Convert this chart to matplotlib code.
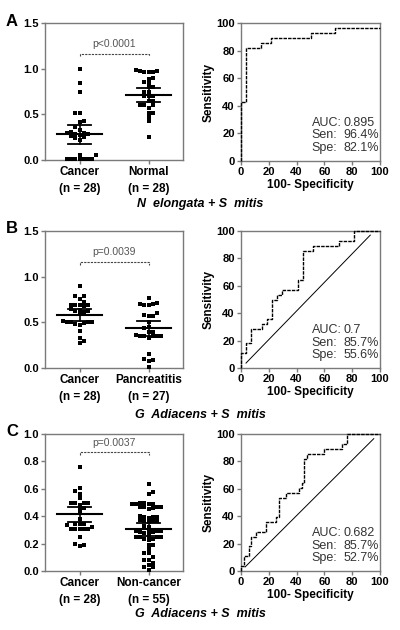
import matplotlib
matplotlib.use("Agg")
import matplotlib.pyplot as plt
import numpy as np

plt.rcParams['font.family'] = ['Liberation Sans', 'DejaVu Sans']

# ---------------- data ----------------
# Panel A
a_cats = ["Cancer\n(n = 28)", "Normal\n(n = 28)"]
a_cancer = [0.993, 0.84, 0.75, 0.52, 0.51, 0.43, 0.42, 0.36, 0.33, 0.31, 0.30, 0.30, 0.29, 0.28,
            0.27, 0.26, 0.25, 0.24, 0.22, 0.055, 0.05, 0.007, 0.007, 0.007, 0.007, 0.007, 0.007, 0.007]
a_normal = [0.985, 0.975, 0.965, 0.963, 0.968, 0.97, 0.894, 0.89, 0.85, 0.845, 0.80, 0.80, 0.75, 0.75,
            0.70, 0.70, 0.70, 0.65, 0.65, 0.60, 0.60, 0.60, 0.57, 0.52, 0.52, 0.475, 0.43, 0.255]
a_mean = [0.285, 0.716]
a_lo = [0.175, 0.636]
a_hi = [0.38, 0.79]
a_p = "p<0.0001"
a_title = "N  elongata + S  mitis"
a_roc_x = [0, 0, 3.57, 3.57, 14.3, 14.3, 21.4, 21.4, 50.0, 50.0, 67.9, 67.9, 100]
a_roc_y = [0, 42.9, 42.9, 82.1, 82.1, 85.7, 85.7, 89.3, 89.3, 92.9, 92.9, 96.4, 96.4]
a_stats = ["0.895", "96.4%", "82.1%"]

# Panel B
b_cats = ["Cancer\n(n = 28)", "Pancreatitis\n(n = 27)"]
b_cancer = [0.898, 0.79, 0.79, 0.752, 0.726, 0.69, 0.69, 0.685, 0.685, 0.68, 0.645, 0.64, 0.62, 0.62,
            0.61, 0.59, 0.51, 0.50, 0.50, 0.50, 0.50, 0.49, 0.478, 0.475, 0.40, 0.325, 0.295, 0.277]
b_panc = [0.763, 0.71, 0.70, 0.69, 0.69, 0.70, 0.60, 0.58, 0.57, 0.57, 0.507, 0.45, 0.44, 0.397,
          0.397, 0.36, 0.35, 0.35, 0.35, 0.35, 0.35, 0.33, 0.153, 0.10, 0.09, 0.08, 0.015]
b_mean = [0.582, 0.436]
b_lo = [0.52, 0.353]
b_hi = [0.647, 0.52]
b_p = "p=0.0039"
b_title = "G  Adiacens + S  mitis"
b_roc_x = [0, 0, 3.7, 3.7, 7.4, 7.4, 14.8, 14.8, 18.5, 18.5, 22.2, 22.2, 25.9, 25.9, 29.6, 29.6,
           40.7, 40.7, 44.4, 44.4, 51.9, 51.9, 70.4, 70.4, 81.5, 81.5, 100]
b_roc_y = [0, 10.7, 10.7, 17.9, 17.9, 28.6, 28.6, 32.1, 32.1, 35.7, 35.7, 50.0, 50.0, 53.6, 53.6,
           57.1, 57.1, 64.3, 64.3, 85.7, 85.7, 89.3, 89.3, 92.9, 92.9, 100, 100]
b_diag_x = [3.6, 93]
b_diag_y = [3.6, 97]
b_stats = ["0.7", "85.7%", "55.6%"]

# Panel C
c_cats = ["Cancer\n(n = 28)", "Non-cancer\n(n = 55)"]
c_cancer = [0.761, 0.604, 0.584, 0.56, 0.53, 0.50, 0.50, 0.50, 0.50, 0.483, 0.46, 0.45, 0.42, 0.38,
            0.345, 0.34, 0.34, 0.335, 0.31, 0.31, 0.31, 0.31, 0.31, 0.32, 0.25, 0.195, 0.18, 0.19]
c_non = [0.635, 0.58, 0.56, 0.50, 0.49, 0.49, 0.49, 0.49, 0.50, 0.47, 0.465, 0.465, 0.46, 0.465,
         0.45, 0.40, 0.395, 0.395, 0.39, 0.395, 0.365, 0.37, 0.365, 0.36, 0.365, 0.33, 0.32, 0.29,
         0.29, 0.285, 0.285, 0.29, 0.285, 0.28, 0.25, 0.25, 0.255, 0.25, 0.245, 0.23, 0.23, 0.225,
         0.19, 0.19, 0.16, 0.13, 0.13, 0.10, 0.08, 0.08, 0.06, 0.03, 0.03, 0.01, 0.045]
c_mean = [0.415, 0.308]
c_lo = [0.359, 0.257]
c_hi = [0.464, 0.347]
c_p = "p=0.0037"
c_title = "G  Adiacens + S  mitis"
c_roc_x = [0, 0, 1.8, 1.8, 5.5, 5.5, 7.3, 7.3, 10.9, 10.9, 18.2, 18.2, 25.5, 25.5, 27.3, 27.3,
           32.7, 32.7, 41.8, 41.8, 43.6, 43.6, 45.5, 45.5, 47.3, 47.3, 60.0, 60.0, 72.7, 72.7,
           76.4, 76.4, 100]
c_roc_y = [0, 3.6, 3.6, 10.7, 10.7, 17.9, 17.9, 25.0, 25.0, 28.6, 28.6, 35.7, 35.7, 39.3, 39.3,
           53.6, 53.6, 57.1, 57.1, 60.7, 60.7, 64.3, 64.3, 82.1, 82.1, 85.7, 85.7, 89.3, 89.3,
           92.9, 92.9, 100, 100]
c_diag_x = [3.0, 95.5]
c_diag_y = [3.0, 96.6]
c_stats = ["0.682", "85.7%", "52.7%"]

stat_labels = ["AUC:", "Sen:", "Spe:"]

W, H = 400, 630
fig = plt.figure(figsize=(4.0, 6.3), dpi=100)

SPINE = '#7a7a7a'


def style_axes(ax):
    for s in ax.spines.values():
        s.set_color(SPINE)
        s.set_linewidth(1.0)
    ax.tick_params(direction='out', length=3, width=1.0, color=SPINE, labelsize=8, pad=1.5)
    for lab in ax.get_xticklabels() + ax.get_yticklabels():
        lab.set_fontweight('bold')


def px_axes(l, t, r, b):
    return fig.add_axes([l / W, 1 - b / H, (r - l) / W, (b - t) / H])


def swarm_x(ax, xc, vals, d=4.2):
    """Beeswarm layout in display space (rows of touching squares)."""
    vals = np.asarray(vals, float)
    ypx = ax.transData.transform(np.column_stack([np.full(len(vals), xc), vals]))[:, 1]
    ppu = ax.transData.transform([(1, 0)])[0][0] - ax.transData.transform([(0, 0)])[0][0]
    order = np.argsort(ypx)
    placed = []
    offs = np.zeros(len(vals))
    toggle = 1
    for i in order:
        cands = [0.0]
        for k in range(1, 20):
            cands += [toggle * k * d, -toggle * k * d]
        for c in cands:
            ok = True
            for (px, py) in placed:
                if abs(px - c) < d * 0.95 and abs(py - ypx[i]) < d * 0.95:
                    ok = False
                    break
            if ok:
                offs[i] = c
                placed.append((c, ypx[i]))
                if c != 0:
                    toggle = -toggle
                break
    return xc + offs / ppu


def scatter_panel(t, b, cats, g1, g2, mean, lo, hi, ymax, yticks, ylabels, ptxt, p_y, p_drop, p_text_y):
    ax = px_axes(45, t, 183, b)
    ax.set_xlim(-0.5, 1.5)
    ax.set_ylim(0, ymax)
    for i, g in enumerate([g1, g2]):
        xs = swarm_x(ax, i, g)
        ax.scatter(xs, g, marker='s', s=5.5, color='black', linewidths=0, zorder=3, clip_on=False)
    for i in range(2):
        ax.plot([i - 0.33, i + 0.33], [mean[i], mean[i]], color='black', lw=1.5, zorder=5)
        ax.plot([i, i], [lo[i], hi[i]], color='black', lw=1.2, zorder=5)
        ax.plot([i - 0.17, i + 0.17], [lo[i], lo[i]], color='black', lw=1.3, zorder=5)
        ax.plot([i - 0.17, i + 0.17], [hi[i], hi[i]], color='black', lw=1.3, zorder=5)
    ax.plot([0, 0, 1, 1], [p_y - p_drop, p_y, p_y, p_y - p_drop], color='#444444', lw=0.8,
            linestyle=(0, (2, 1)))
    ax.text(0.5, p_text_y, ptxt, ha='center', va='center', fontsize=7.5, color='#555555')
    ax.set_yticks(yticks)
    ax.set_yticklabels(ylabels)
    ax.set_xticks([0, 1])
    ax.set_xticklabels(cats, linespacing=1.5)
    style_axes(ax)
    for lab in ax.get_xticklabels():
        lab.set_fontsize(8.5)
    return ax


def roc_panel(t, b, rx, ry, stats, dx=None, dy=None):
    ax = px_axes(241, t, 380, b)
    ax.plot(rx, ry, color='black', lw=1.0, linestyle=(0, (2.5, 0.8)), clip_on=False, zorder=4)
    if dx is not None:
        ax.plot(dx, dy, color='black', lw=0.7)
    ax.set_xlim(0, 100)
    ax.set_ylim(0, 100)
    ax.set_xticks(range(0, 101, 20))
    ax.set_yticks(range(0, 101, 20))
    ax.set_xlabel('100- Specificity', fontsize=8.5, fontweight='bold', labelpad=1)
    ax.set_ylabel('Sensitivity', fontsize=8.5, fontweight='bold', labelpad=1)
    style_axes(ax)
    ys = [27.5, 18.5, 9.2]
    for lab, val, y in zip(stat_labels, stats, ys):
        ax.text(51, y, lab, fontsize=9, color='#333333', va='center', ha='left')
        ax.text(73.5, y, val, fontsize=9, color='#333333', va='center', ha='left')
    return ax


# Panel A
scatter_panel(23, 160, a_cats, a_cancer, a_normal, a_mean, a_lo, a_hi, 1.5,
              [0, 0.5, 1.0, 1.5], ["0.0", "0.5", "1.0", "1.5"], a_p, 1.165, 0.03, 1.27)
roc_panel(23, 161, a_roc_x, a_roc_y, a_stats)
fig.text(200 / W, 1 - 204 / H, a_title, ha='center', va='center', fontsize=9,
         fontweight='bold', style='italic')
fig.text(12 / W, 1 - 21 / H, 'A', ha='center', va='center', fontsize=12, fontweight='bold')

# Panel B
scatter_panel(231, 368, b_cats, b_cancer, b_panc, b_mean, b_lo, b_hi, 1.5,
              [0, 0.5, 1.0, 1.5], ["0.0", "0.5", "1.0", "1.5"], b_p, 1.16, 0.03, 1.265)
roc_panel(231, 368, b_roc_x, b_roc_y, b_stats, b_diag_x, b_diag_y)
fig.text(200 / W, 1 - 415 / H, b_title, ha='center', va='center', fontsize=9,
         fontweight='bold', style='italic')
fig.text(12 / W, 1 - 228 / H, 'B', ha='center', va='center', fontsize=12, fontweight='bold')

# Panel C
scatter_panel(434, 571, c_cats, c_cancer, c_non, c_mean, c_lo, c_hi, 1.0,
              [0, 0.2, 0.4, 0.6, 0.8, 1.0], ["0.0", "0.2", "0.4", "0.6", "0.8", "1.0"],
              c_p, 0.868, 0.02, 0.935)
roc_panel(434, 571, c_roc_x, c_roc_y, c_stats, c_diag_x, c_diag_y)
fig.text(200 / W, 1 - 614 / H, c_title, ha='center', va='center', fontsize=9,
         fontweight='bold', style='italic')
fig.text(12 / W, 1 - 431 / H, 'C', ha='center', va='center', fontsize=12, fontweight='bold')

fig.savefig('out.png', dpi=100)
